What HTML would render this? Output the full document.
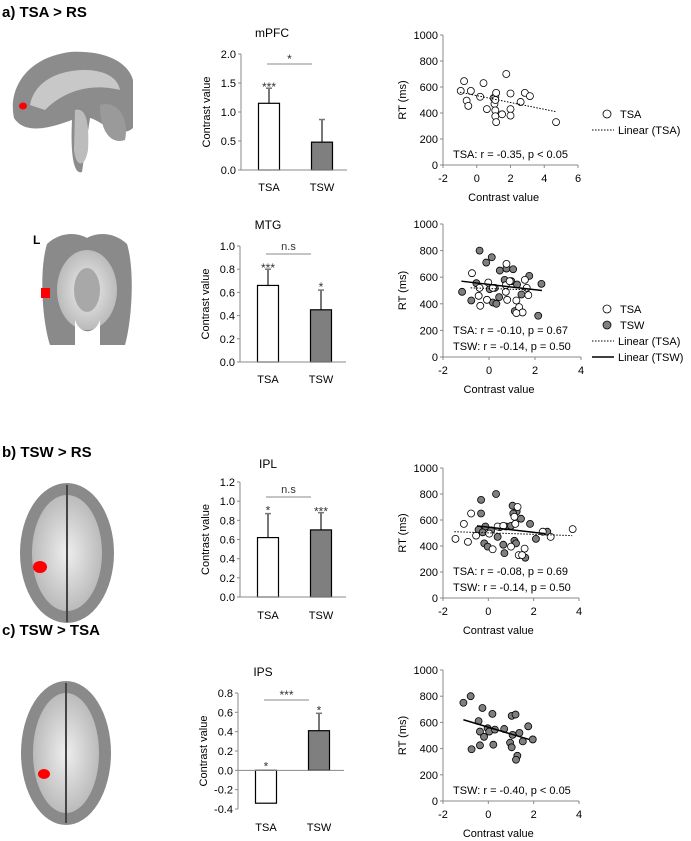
<!DOCTYPE html>
<html><head><meta charset="utf-8"><style>
body{margin:0;background:#fff;}
svg{display:block;font-family:"Liberation Sans",sans-serif;}
</style></head><body>
<svg id="fig" width="691" height="841" viewBox="0 0 691 841">
<defs>
<radialGradient id="wm" cx="50%" cy="50%" r="50%"><stop offset="0" stop-color="#eee"/><stop offset="1" stop-color="#bbb"/></radialGradient>
</defs>
<g font-weight="bold" font-size="15" fill="#000">
<text x="2" y="17">a) TSA &gt; RS</text>
<text x="2" y="457">b) TSW &gt; RS</text>
<text x="2" y="635">c) TSW &gt; TSA</text>
<text x="33" y="244" font-size="12">L</text>
</g>
<g>
<path d="M14,118 C8,90 25,58 70,52 C105,50 128,62 133,80 L133,128 C120,140 100,120 90,118 L82,172 C75,175 70,160 72,120 C50,128 25,135 14,118 Z" fill="#8c8c8c"/>
<path d="M30,105 C35,80 60,70 85,70 C105,70 118,78 120,90 C100,85 70,85 45,110 Z" fill="#c8c8c8"/>
<path d="M100,105 C115,100 130,115 125,140 C110,145 100,130 100,105Z" fill="#9a9a9a"/>
<path d="M75,110 C82,108 90,112 88,150 C85,168 76,168 74,150Z" fill="#bcbcbc"/>
<ellipse cx="23" cy="106" rx="4" ry="3.5" fill="#f00"/>
</g>
<g>
<path d="M47,244 C60,232 76,232 87,238 C98,232 114,232 127,244 C135,270 132,320 125,345 L50,345 C42,320 39,270 47,244Z" fill="#8a8a8a"/>
<ellipse cx="87" cy="290" rx="30" ry="40" fill="url(#wm)"/>
<ellipse cx="87" cy="290" rx="13" ry="22" fill="#a8a8a8"/>
<path d="M75,320 C80,335 95,335 100,320 L100,345 L75,345Z" fill="#fff"/>
<rect x="41" y="288" width="9" height="10" fill="#f00"/>
</g>
<g>
<ellipse cx="67" cy="553" rx="47" ry="70" fill="#8a8a8a"/>
<ellipse cx="67" cy="553" rx="35" ry="58" fill="url(#wm)"/>
<line x1="67" y1="485" x2="67" y2="622" stroke="#444" stroke-width="2"/>
<ellipse cx="40" cy="567" rx="7" ry="6" fill="#f00"/>
</g>
<g>
<ellipse cx="66" cy="753" rx="45" ry="72" fill="#8a8a8a"/>
<ellipse cx="66" cy="753" rx="33" ry="60" fill="url(#wm)"/>
<line x1="66" y1="683" x2="66" y2="823" stroke="#444" stroke-width="2"/>
<ellipse cx="44" cy="774" rx="6" ry="5" fill="#f00"/>
</g>
<g id="charts"></g>
</svg>
<script>
const barCats = ["TSA", "TSW"];
const barTitles = ["mPFC", "MTG", "IPL", "IPS"];
const mpfcMeans = [1.15, 0.48];
const mpfcErr = [0.26, 0.39];
const mtgMeans = [0.66, 0.45];
const mtgErr = [0.14, 0.17];
const iplMeans = [0.62, 0.70];
const iplErr = [0.25, 0.18];
const ipsMeans = [-0.34, 0.41];
const ipsErr = [0.25, 0.18];
const mpfcTicks = ["0.0","0.5","1.0","1.5","2.0"];
const mtgTicks = ["0.0","0.2","0.4","0.6","0.8","1.0"];
const iplTicks = ["0.0","0.2","0.4","0.6","0.8","1.0","1.2"];
const ipsTicks = ["-0.4","-0.2","0.0","0.2","0.4","0.6","0.8"];
const mpfcStars = ["***", ""];
const mtgStars = ["***", "*"];
const iplStars = ["*", "***"];
const ipsStars = ["*", "*"];
const barSig = ["*", "n.s", "n.s", "***"];

const s1TsaX = [-0.95,-0.75,-0.35,-0.6,-0.5,0.2,0.4,0.6,1.0,1.05,1.1,1.15,1.1,1.1,1.1,1.15,1.5,1.75,2.0,2.0,2.0,2.6,2.85,3.15,4.7];
const s1TsaY = [570,645,570,495,455,525,630,430,515,470,520,555,500,420,375,330,390,700,550,430,380,485,555,530,330];
const s1Fit = [[-1,4.7],[560,410]];
const s2TswX = [-0.41,0.12,-0.12,0.47,0.76,1.05,1.75,2.28,-1.17,-0.77,-0.55,0.03,0.17,0.32,0.44,0.97,1.22,1.12,1.41,2.14,0.25,0.68];
const s2TswY = [800,750,710,650,665,660,610,550,490,425,555,510,410,400,450,570,545,345,470,310,520,580];
const s2TsaX = [-0.74,-0.45,-0.38,-0.09,-0.03,0.17,0.76,0.73,0.73,0.79,1.19,1.31,1.46,1.19,1.56,1.64,1.71,-0.41,0.9];
const s2TsaY = [630,460,385,430,560,520,700,540,490,430,425,375,335,330,580,520,465,520,570];
const s2FitTsw = [[-1.2,2.3],[570,500]];
const s2FitTsa = [[-0.8,1.7],[520,505]];
const s3TswX = [-0.32,0.34,-0.32,-0.43,-0.13,-0.25,-0.18,-0.03,0.41,0.51,0.78,0.66,1.07,1.25,1.1,1.44,1.84,0.71,1.15,1.22,1.63,2.1,2.6,0.12,1.0];
const s3TswY = [755,800,650,525,550,505,420,395,470,545,550,410,710,665,650,610,570,345,440,420,310,455,510,520,555];
const s3TsaX = [-1.45,-1.08,-0.9,-0.76,-0.54,0.19,0.04,0.41,0.66,1.15,1.29,1.19,1.34,1.49,1.6,2.4,2.75,3.72,1.0];
const s3TsaY = [455,570,432,650,480,375,495,550,555,625,700,570,330,330,380,510,470,530,395];
const s3FitTsw = [[-0.5,2.5],[555,495]];
const s3FitTsa = [[-1.5,3.7],[510,480]];
const s4TswX = [-1.1,-0.78,-0.26,0.18,-0.43,-0.37,-0.19,-0.03,0.04,0.29,-0.37,0.22,-0.74,0.7,1.03,1.2,1.07,1.37,1.52,1.76,1.96,0.96,1.03,1.28,1.22];
const s4TswY = [750,800,710,665,610,530,490,555,530,545,425,430,395,550,650,660,505,520,455,570,470,445,410,345,315];
const s4Fit = [[-1.1,1.8],[620,470]];
const rtTicks = ["0","200","400","600","800","1000"];

const NS = "http://www.w3.org/2000/svg";
const root = document.getElementById("charts");
function mk(tag, attrs, parent, txt){
  const e = document.createElementNS(NS, tag);
  for (const k in attrs) e.setAttribute(k, attrs[k]);
  if (txt !== undefined) e.textContent = txt;
  (parent||root).appendChild(e);
  return e;
}

function barChart(cfg, means, errs, ticks, stars, sig, title){
  const g = mk("g", {});
  
  
  const vmin = parseFloat(ticks[0]), vmax = parseFloat(ticks[ticks.length-1]);
  const y = v => cfg.y0 + (cfg.y1 - cfg.y0) * (v - vmin) / (vmax - vmin);
  const zero = y(0);
  const t = mk("text", {x: cfg.tx, y: cfg.ty, "font-size": 12, "text-anchor": "middle"}, g, title);
  
  
  mk("line", {x1: cfg.ax, y1: cfg.y1, x2: cfg.ax, y2: cfg.y0, stroke: "#888", "stroke-width": 1}, g);
  ticks.forEach(tk => {
    const yy = y(parseFloat(tk));
    mk("line", {x1: cfg.ax-3, y1: yy, x2: cfg.ax, y2: yy, stroke: "#888"}, g);
    const l = mk("text", {x: cfg.ax-5, y: yy+4, "font-size": 11, "text-anchor": "end"}, g, tk);
    
    
  });
  const yl = mk("text", {x: 0, y: 0, "font-size": 11, "text-anchor": "middle", transform: `translate(${cfg.ax-31},${(cfg.y0+cfg.y1)/2}) rotate(-90)`}, g, "Contrast value");
  
  
  const bw = 21, centers = [cfg.ax + 28, cfg.ax + 81];
  means.forEach((m, i) => {
    const cx = centers[i];
    const top = Math.min(y(m), zero), h = Math.abs(y(m) - zero);
    mk("line", {x1: cx, y1: y(m), x2: cx, y2: y(m+errs[i]), stroke: "#777", "stroke-width": 2}, g);
    mk("line", {x1: cx - 3, y1: y(m+errs[i]), x2: cx + 3, y2: y(m+errs[i]), stroke: "#777", "stroke-width": 1.5}, g);
    const b = mk("rect", {x: cx - bw/2, y: top, width: bw, height: h, fill: i===0 ? "#fff" : "#7f7f7f", stroke: "#000", "stroke-width": 1.2}, g);
    
    
    if (stars[i]) {
      const sy = m >= 0 ? y(m+errs[i]) - 3 : zero - 4;
      mk("text", {x: cx, y: sy + (stars[i]==="*"?4:6), "font-size": 12, "text-anchor": "middle", fill: "#333"}, g, stars[i]);
    }
    const cl = mk("text", {x: cx, y: cfg.ly, "font-size": 11, "text-anchor": "middle"}, g, barCats[i]);
    
    
  });
  mk("line", {x1: cfg.ax, y1: zero, x2: cfg.ax + 106, y2: zero, stroke: "#888"}, g);
  mk("line", {x1: centers[0]-2, y1: cfg.sy, x2: centers[1]-10, y2: cfg.sy, stroke: "#888"}, g);
  mk("text", {x: (centers[0]+centers[1])/2 - 6, y: cfg.sy - (sig==="n.s"?4:1), "font-size": sig==="n.s"?11:12, "text-anchor": "middle", fill: "#333"}, g, sig);
}

barChart({ax:241,y0:170,y1:54,tx:272,ty:37,ly:191,sy:64}, mpfcMeans, mpfcErr, mpfcTicks, mpfcStars, barSig[0], barTitles[0]);
barChart({ax:240,y0:362,y1:246,tx:268,ty:229,ly:383,sy:254}, mtgMeans, mtgErr, mtgTicks, mtgStars, barSig[1], barTitles[1]);
barChart({ax:240,y0:597,y1:482,tx:268,ty:468,ly:619,sy:497}, iplMeans, iplErr, iplTicks, iplStars, barSig[2], barTitles[2]);
barChart({ax:238,y0:809,y1:693,tx:263,ty:676,ly:831,sy:700}, ipsMeans, ipsErr, ipsTicks, ipsStars, barSig[3], barTitles[3]);

function scatter(cfg, xt, series, fits, stats, legend, name){
  const g = mk("g", {});
  
  
  const xmin = parseFloat(xt[0]), xmax = parseFloat(xt[xt.length-1]);
  const x = v => cfg.ax + (cfg.xr - cfg.ax) * (v - xmin) / (xmax - xmin);
  const y = v => cfg.y0 + (cfg.y1 - cfg.y0) * v / 1000;
  mk("line", {x1: cfg.ax, y1: cfg.y0, x2: cfg.ax, y2: cfg.y1, stroke: "#888"}, g);
  mk("line", {x1: cfg.ax, y1: cfg.y0, x2: cfg.xr, y2: cfg.y0, stroke: "#888"}, g);
  rtTicks.forEach(tk => {
    const yy = y(parseFloat(tk));
    mk("line", {x1: cfg.ax-3, y1: yy, x2: cfg.ax, y2: yy, stroke: "#888"}, g);
    const l = mk("text", {x: cfg.ax-5, y: yy+4, "font-size": 11, "text-anchor": "end"}, g, tk);
    
    
  });
  xt.forEach(tk => {
    const xx = x(parseFloat(tk));
    mk("line", {x1: xx, y1: cfg.y0, x2: xx, y2: cfg.y0+3, stroke: "#888"}, g);
    const l = mk("text", {x: xx, y: cfg.y0+17, "font-size": 11, "text-anchor": "middle"}, g, tk);
    
    
  });
  const xl = mk("text", {x: (cfg.ax + x(parseFloat(xt[xt.length-2])))/2 + 10, y: cfg.y0+36, "font-size": 11, "text-anchor": "middle"}, g, "Contrast value");
  
  
  const yl = mk("text", {x: 0, y: 0, "font-size": 11, "text-anchor": "middle", transform: `translate(${cfg.ax-37},${(cfg.y0+cfg.y1)/2}) rotate(-90)`}, g, "RT (ms)");
  
  
  series.forEach(s => {
    s.xs.forEach((xv, i) => {
      const c = mk("circle", {cx: x(xv), cy: y(s.ys[i]), r: 3.5, fill: s.fill, stroke: "#000", "stroke-width": 0.8}, g);
      
      
    });
  });
  fits.forEach(f => {
    const l = mk("line", {x1: x(f.d[0][0]), y1: y(f.d[1][0]), x2: x(f.d[0][1]), y2: y(f.d[1][1]), stroke: "#000", "stroke-width": f.dash ? 1 : 1.5, "stroke-dasharray": f.dash ? "1.5,1.5" : "none"}, g);
    
    
  });
  stats.forEach((s, i) => {
    const t = mk("text", {x: cfg.ax + 10, y: cfg.sy + i*16, "font-size": 11}, g, s);
    
    
  });
  legend.forEach((L, i) => {
    const ly = cfg.legY + i*16;
    if (L.type === "pt") mk("circle", {cx: 607, cy: ly-4, r: 4, fill: L.fill, stroke: "#000", "stroke-width": 0.8}, g);
    else mk("line", {x1: 592, y1: ly-4, x2: 614, y2: ly-4, stroke: "#000", "stroke-width": L.dash?1:1.5, "stroke-dasharray": L.dash?"1.5,1.5":"none"}, g);
    const t = mk("text", {x: L.type==="pt"?620:618, y: ly, "font-size": 11}, g, L.label);
    
    
  });
}

scatter({ax:443,xr:578,y0:165,y1:35,sy:158,legY:118}, ["-2","0","2","4","6"],
  [{name:"tsa",xs:s1TsaX,ys:s1TsaY,fill:"#fff"}], [{d:s1Fit,dash:true}],
  ["TSA: r = -0.35, p < 0.05"],
  [{type:"pt",fill:"#fff",label:"TSA"},{type:"ln",dash:true,label:"Linear (TSA)"}], "scatter-mpfc");
scatter({ax:443,xr:581,y0:357,y1:224,sy:334,legY:313}, ["-2","0","2","4"],
  [{name:"tsw",xs:s2TswX,ys:s2TswY,fill:"#7f7f7f"},{name:"tsa",xs:s2TsaX,ys:s2TsaY,fill:"#fff"}],
  [{d:s2FitTsw,dash:false},{d:s2FitTsa,dash:true}],
  ["TSA: r = -0.10, p = 0.67","TSW: r = -0.14, p = 0.50"],
  [{type:"pt",fill:"#fff",label:"TSA"},{type:"pt",fill:"#7f7f7f",label:"TSW"},{type:"ln",dash:true,label:"Linear (TSA)"},{type:"ln",dash:false,label:"Linear (TSW)"}], "scatter-mtg");
scatter({ax:443,xr:579,y0:598,y1:468,sy:575,legY:0}, ["-2","0","2","4"],
  [{name:"tsw",xs:s3TswX,ys:s3TswY,fill:"#7f7f7f"},{name:"tsa",xs:s3TsaX,ys:s3TsaY,fill:"#fff"}],
  [{d:s3FitTsw,dash:false},{d:s3FitTsa,dash:true}],
  ["TSA: r = -0.08, p = 0.69","TSW: r = -0.14, p = 0.50"], [], "scatter-ipl");
scatter({ax:443,xr:579,y0:801,y1:670,sy:794,legY:0}, ["-2","0","2","4"],
  [{name:"tsw",xs:s4TswX,ys:s4TswY,fill:"#7f7f7f"}], [{d:s4Fit,dash:false}],
  ["TSW: r = -0.40, p < 0.05"], [], "scatter-ips");
</script>
</body></html>
